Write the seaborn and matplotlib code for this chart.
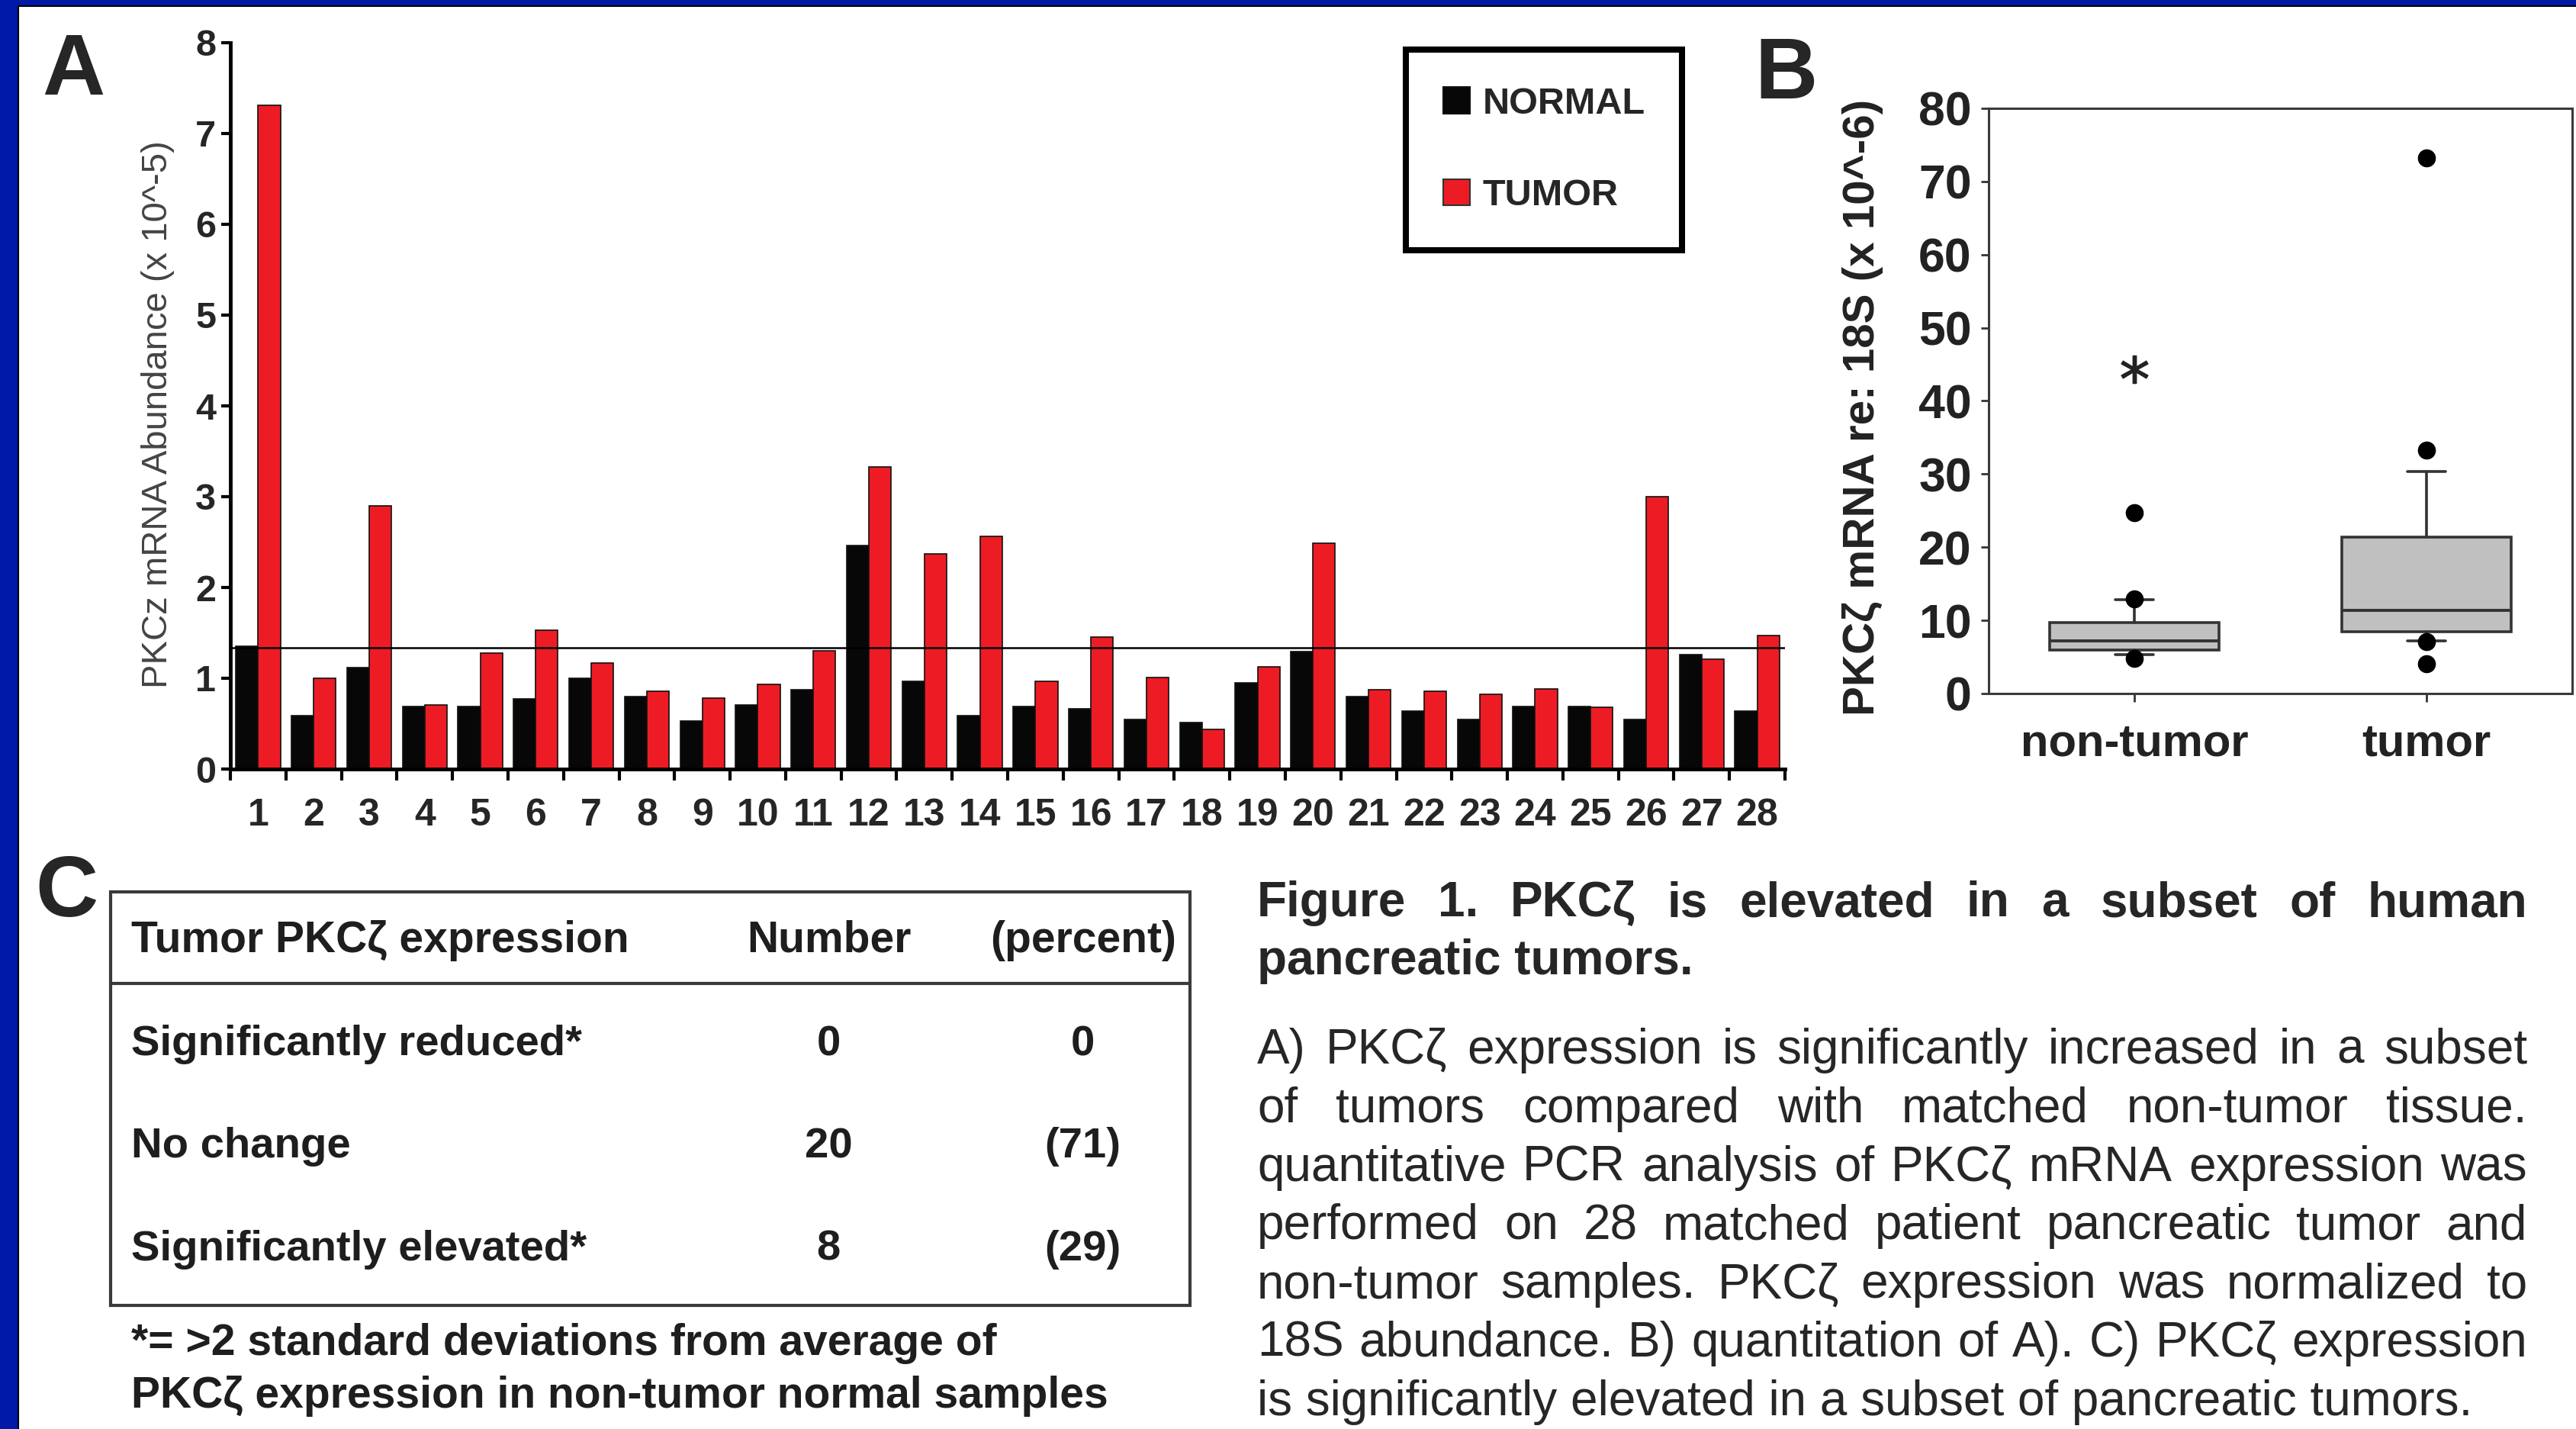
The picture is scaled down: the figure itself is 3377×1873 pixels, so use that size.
import numpy as np
import pandas as pd
import matplotlib
matplotlib.use('Agg')
import matplotlib.pyplot as plt
from matplotlib.patches import Rectangle, Patch
import seaborn as sns

W, H = 3377, 1873

# Panel A: PKCz mRNA abundance for 28 matched pairs (x 10^-5)
samples = [str(i) for i in range(1, 29)]
normal = [1.35, 0.59, 1.12, 0.69, 0.69, 0.77, 1.00, 0.80, 0.53, 0.71, 0.87, 2.46, 0.97, 0.59,
          0.69, 0.66, 0.55, 0.51, 0.95, 1.29, 0.80, 0.64, 0.55, 0.69, 0.69, 0.55, 1.26, 0.64]
tumor = [7.31, 1.00, 2.90, 0.71, 1.28, 1.53, 1.17, 0.86, 0.78, 0.93, 1.30, 3.33, 2.37, 2.56,
         0.97, 1.45, 1.01, 0.44, 1.13, 2.49, 0.87, 0.86, 0.82, 0.88, 0.68, 3.00, 1.21, 1.47]
threshold = 1.34

# Panel B: box plot summary (x 10^-6)
groups = ['non-tumor', 'tumor']
whislo = [5.3, 7.2]
q1 = [5.9, 8.4]
med = [7.2, 11.4]
q3 = [9.7, 21.4]
whishi = [12.8, 30.4]
fliers = [[4.8, 12.9, 24.7], [4.1, 7.1, 33.3, 73.2]]
starred = 44.3

# Panel C: table
table_cols = ['Tumor PKCζ expression', 'Number', '(percent)']
table_rows = ['Significantly reduced*', 'No change', 'Significantly elevated*']
table_number = ['0', '20', '8']
table_percent = ['0', '(71)', '(29)']
footnote = ['*= >2 standard deviations from average of',
            'PKCζ expression in non-tumor normal samples']

title_lines = ['Figure 1. PKCζ is elevated in a subset of human',
               'pancreatic tumors.']
body_lines = ['A) PKCζ expression is significantly increased in a subset',
              'of tumors compared with matched non-tumor tissue.',
              'quantitative PCR analysis of PKCζ mRNA expression was',
              'performed on 28 matched patient pancreatic tumor and',
              'non-tumor samples. PKCζ expression was normalized to',
              '18S abundance. B) quantitation of A). C) PKCζ expression',
              'is significantly elevated in a subset of pancreatic tumors.']

sns.set_theme(style='ticks')
FONT = ['Liberation Sans', 'DejaVu Sans']
plt.rcParams['font.family'] = FONT

fig = plt.figure(figsize=(W / 100, H / 100), dpi=100)
fig.patch.set_facecolor('white')

# overlay in pixel coordinates for frame, letters, table and caption
ov = fig.add_axes([0, 0, 1, 1])
ov.set_xlim(0, W)
ov.set_ylim(H, 0)
ov.axis('off')
ov.set_zorder(5)

ov.add_patch(Rectangle((0, 0), 23, H, color='#0019a8', lw=0))
ov.add_patch(Rectangle((0, 0), W, 7, color='#0019a8', lw=0))
ov.plot([24, 24], [8, H], color='black', lw=1.5)
ov.plot([24, W], [8, 8], color='black', lw=1.5)

for letter, x, y in [('A', 55, 124), ('B', 2300, 129), ('C', 46, 1201)]:
    ov.text(x, y, letter, fontsize=82, fontweight='bold', va='baseline', ha='left')

# ---------------- Panel A ----------------
normal_color = '#070707'
tumor_color = '#ed1c24'
df = pd.DataFrame({
    'sample': samples * 2,
    'value': normal + tumor,
    'group': ['NORMAL'] * len(samples) + ['TUMOR'] * len(samples),
})

axA = fig.add_axes([302 / W, 1 - 1008 / H, (2340 - 302) / W, (1008 - 56) / H])
axA.patch.set_alpha(0)
sns.barplot(data=df, x='sample', y='value', hue='group', order=samples,
            palette={'NORMAL': normal_color, 'TUMOR': tumor_color}, saturation=1,
            width=0.8, errorbar=None, edgecolor='#111111', linewidth=1.2,
            legend=False, ax=axA)
axA.axhline(threshold, color='black', lw=1.8, zorder=5)
axA.set_xlim(-0.5, len(samples) - 0.5)
axA.set_ylim(0, 8)
axA.set_yticks(range(0, 9))
axA.set_xlabel('')
axA.set_ylabel('PKCz mRNA Abundance (x 10^-5)', fontsize=34, color='#444444')
axA.yaxis.set_label_coords(-0.036, 0.488)
axA.set_xticks(np.arange(-0.5, len(samples), 1), minor=True)
axA.tick_params(axis='x', which='major', length=0, pad=27, labelsize=36)
axA.tick_params(axis='x', which='minor', length=11, width=3, color='black')
axA.tick_params(axis='y', length=8.5, width=3, pad=5, labelsize=35, color='black')
plt.setp(axA.get_xticklabels() + axA.get_yticklabels(), fontweight='bold')
for side in ['top', 'right']:
    axA.spines[side].set_visible(False)
for side in ['left', 'bottom']:
    axA.spines[side].set_linewidth(3.5)
    axA.spines[side].set_color('black')

handles = [Patch(facecolor=normal_color, edgecolor='#111111', linewidth=1.5),
           Patch(facecolor=tumor_color, edgecolor='#333333', linewidth=1.5)]
leg = axA.legend(handles, ['NORMAL', 'TUMOR'], loc='upper left',
                 bbox_to_anchor=(1843 / W, 1 - 65 / H), bbox_transform=fig.transFigure,
                 borderaxespad=0, frameon=True, fancybox=False, framealpha=1,
                 edgecolor='black', prop=dict(family=FONT, weight='bold', size=35),
                 handlelength=0.72, handleheight=0.72, handletextpad=0.35,
                 labelspacing=1.55, borderpad=1.0)
leg.get_frame().set_linewidth(5.8)

# ---------------- Panel B ----------------
axB = fig.add_axes([2607 / W, 1 - 909 / H, (3372 - 2607) / W, (909 - 142) / H])
axB.patch.set_alpha(0)
stats = []
for i, g in enumerate(groups):
    stats.append(dict(label=g, whislo=whislo[i], q1=q1[i], med=med[i], q3=q3[i],
                      whishi=whishi[i], fliers=fliers[i]))
axB.bxp(stats, positions=[0, 1], widths=0.58, capwidths=0.13, patch_artist=True,
        boxprops=dict(facecolor='#c0c0c0', edgecolor='#333333', linewidth=2.6),
        medianprops=dict(color='#333333', linewidth=2.8),
        whiskerprops=dict(color='#333333', linewidth=2.6),
        capprops=dict(color='#333333', linewidth=2.6),
        flierprops=dict(marker='o', markerfacecolor='black', markeredgecolor='black',
                        markersize=16))
axB.plot([0], [starred], marker='$*$', markersize=26, color='#222222', linestyle='none')
axB.set_xlim(-0.5, 1.5)
axB.set_ylim(0, 80)
axB.set_yticks(range(0, 81, 10))
axB.set_xticks([0, 1])
axB.set_xticklabels(groups)
axB.set_ylabel('PKCζ mRNA re: 18S (x 10^-6)', fontsize=42, fontweight='bold', color='#222222')
axB.yaxis.set_label_coords(-0.181, 0.489)
axB.tick_params(axis='y', length=7, width=2, pad=9, labelsize=45, color='#333333')
axB.tick_params(axis='x', length=8, width=2, pad=20, labelsize=43, color='#333333')
plt.setp(axB.get_xticklabels() + axB.get_yticklabels(), fontweight='bold', color='#222222')
for side in axB.spines:
    axB.spines[side].set_linewidth(2.2)
    axB.spines[side].set_color('#3a3a3a')

# ---------------- Panel C table ----------------
tcol = '#1e1e1e'
ov.add_patch(Rectangle((145, 1169), 1560 - 145, 1711 - 1169, fill=False,
                       edgecolor='#3a3a3a', lw=3))
ov.plot([145, 1560], [1289, 1289], color='#3a3a3a', lw=3)
ov.text(172, 1248, table_cols[0], fontsize=41, fontweight='bold', color=tcol, va='baseline')
ov.text(1087, 1248, table_cols[1], fontsize=41, fontweight='bold', color=tcol,
        va='baseline', ha='center')
ov.text(1420, 1248, table_cols[2], fontsize=41, fontweight='bold', color=tcol,
        va='baseline', ha='center')
row_base = [1383, 1517, 1652]
for lab, num, pct, yb in zip(table_rows, table_number, table_percent, row_base):
    ov.text(172, yb, lab, fontsize=40.5, fontweight='bold', color=tcol, va='baseline')
    ov.text(1086, yb, num, fontsize=40.5, fontweight='bold', color=tcol, va='baseline', ha='center')
    ov.text(1419, yb, pct, fontsize=40.5, fontweight='bold', color=tcol, va='baseline', ha='center')
for line, yb in zip(footnote, [1776, 1845]):
    ov.text(172, yb, line, fontsize=41, fontweight='bold', color=tcol, va='baseline')

# ---------------- Caption (justified) ----------------
renderer = fig.canvas.get_renderer()


def justified(lines, x0, x1, baselines, size, weight):
    for k, (line, yb) in enumerate(zip(lines, baselines)):
        if k == len(lines) - 1:
            ov.text(x0, yb, line, fontsize=size, fontweight=weight, va='baseline')
            continue
        words = line.split()
        items = [ov.text(0, yb, w, fontsize=size, fontweight=weight, va='baseline')
                 for w in words]
        widths = [t.get_window_extent(renderer).width for t in items]
        gap = (x1 - x0 - sum(widths)) / (len(words) - 1)
        x = x0
        for t, w in zip(items, widths):
            t.set_x(x)
            x += w + gap


justified(title_lines, 1648, 3313, [1201, 1277], 46, 'bold')
justified(body_lines, 1648, 3313, [1394 + 76.8 * i for i in range(len(body_lines))], 46, 'normal')

fig.savefig('out.png', dpi=100, facecolor='white')
